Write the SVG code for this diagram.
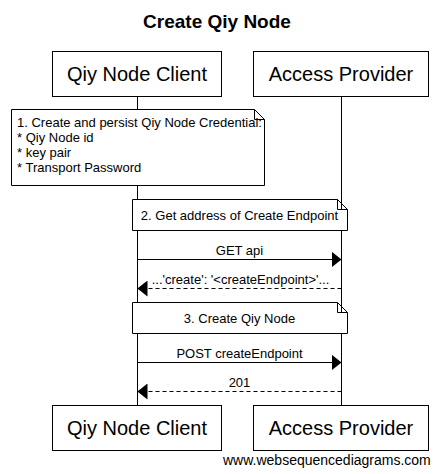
<svg xmlns="http://www.w3.org/2000/svg" width="443" height="474" viewBox="0 0 443 474">
<defs>
<style>
text{font-family:"Liberation Sans",Arial,sans-serif;fill:#000}
.title{font-size:19px;font-weight:bold;text-anchor:middle}
.actor rect{fill:#fff;stroke:#000;stroke-width:1}
.actor text{font-size:20px;text-anchor:middle}
.note path{fill:#fff;stroke:#000;stroke-width:1}
.note text{font-size:13px}
.note .c{text-anchor:middle}
.life{stroke:#000;stroke-width:1;fill:none}
.msg{stroke:#000;stroke-width:1;fill:none}
.dash{stroke-dasharray:4,3}
.lbl{font-size:13px;text-anchor:middle}
.wm{font-size:14px}
</style>
<marker id="arr" markerUnits="userSpaceOnUse" markerWidth="10" markerHeight="16" refX="10" refY="8" orient="auto">
<path d="M0,0 L10,8 L0,16 z" fill="#000"/>
</marker>
</defs>
<rect width="443" height="474" fill="#fff"/>
<text class="title" x="217" y="28">Create Qiy Node</text>

<g id="connectors">
<line class="life" x1="137.5" y1="96" x2="137.5" y2="405"/>
<line class="life" x1="341.5" y1="96" x2="341.5" y2="405"/>
<line class="msg" x1="137.5" y1="259.5" x2="341.5" y2="259.5" marker-end="url(#arr)"/>
<text class="lbl" x="239.5" y="255">GET api</text>
<line class="msg dash" x1="341.5" y1="288.5" x2="137.5" y2="288.5" marker-end="url(#arr)"/>
<text class="lbl" x="240.5" y="284">...'create': '&lt;createEndpoint&gt;'...</text>
<line class="msg" x1="137.5" y1="362.5" x2="341.5" y2="362.5" marker-end="url(#arr)"/>
<text class="lbl" x="239.5" y="358">POST createEndpoint</text>
<line class="msg dash" x1="341.5" y1="391.5" x2="137.5" y2="391.5" marker-end="url(#arr)"/>
<text class="lbl" x="239.5" y="387">201</text>
</g>

<g id="client-top" class="actor">
<rect x="52.5" y="51.5" width="169" height="45"/>
<text x="137" y="81">Qiy Node Client</text>
</g>
<g id="provider-top" class="actor">
<rect x="253.5" y="51.5" width="175" height="45"/>
<text x="341" y="81">Access Provider</text>
</g>

<g id="note1" class="note">
<path d="M11.5,109.5 H254.5 L264.5,119.5 V185.5 H11.5 Z M254.5,109.5 V119.5 H264.5"/>
<text x="17" y="127">1. Create and persist Qiy Node Credential:</text>
<text x="17" y="142">* Qiy Node id</text>
<text x="17" y="157">* key pair</text>
<text x="17" y="172">* Transport Password</text>
</g>

<g id="note2" class="note">
<path d="M132.5,199.5 H337.5 L347.5,209.5 V230.5 H132.5 Z M337.5,199.5 V209.5 H347.5"/>
<text class="c" x="239.5" y="219.5">2. Get address of Create Endpoint</text>
</g>

<g id="note3" class="note">
<path d="M132.5,302.5 H337.5 L347.5,312.5 V333.5 H132.5 Z M337.5,302.5 V312.5 H347.5"/>
<text class="c" x="239.5" y="322.5">3. Create Qiy Node</text>
</g>

<g id="client-bottom" class="actor">
<rect x="52.5" y="405.5" width="169" height="45"/>
<text x="137" y="435">Qiy Node Client</text>
</g>
<g id="provider-bottom" class="actor">
<rect x="253.5" y="405.5" width="175" height="45"/>
<text x="341" y="435">Access Provider</text>
</g>

<text class="wm" x="223" y="465">www.websequencediagrams.com</text>
</svg>
